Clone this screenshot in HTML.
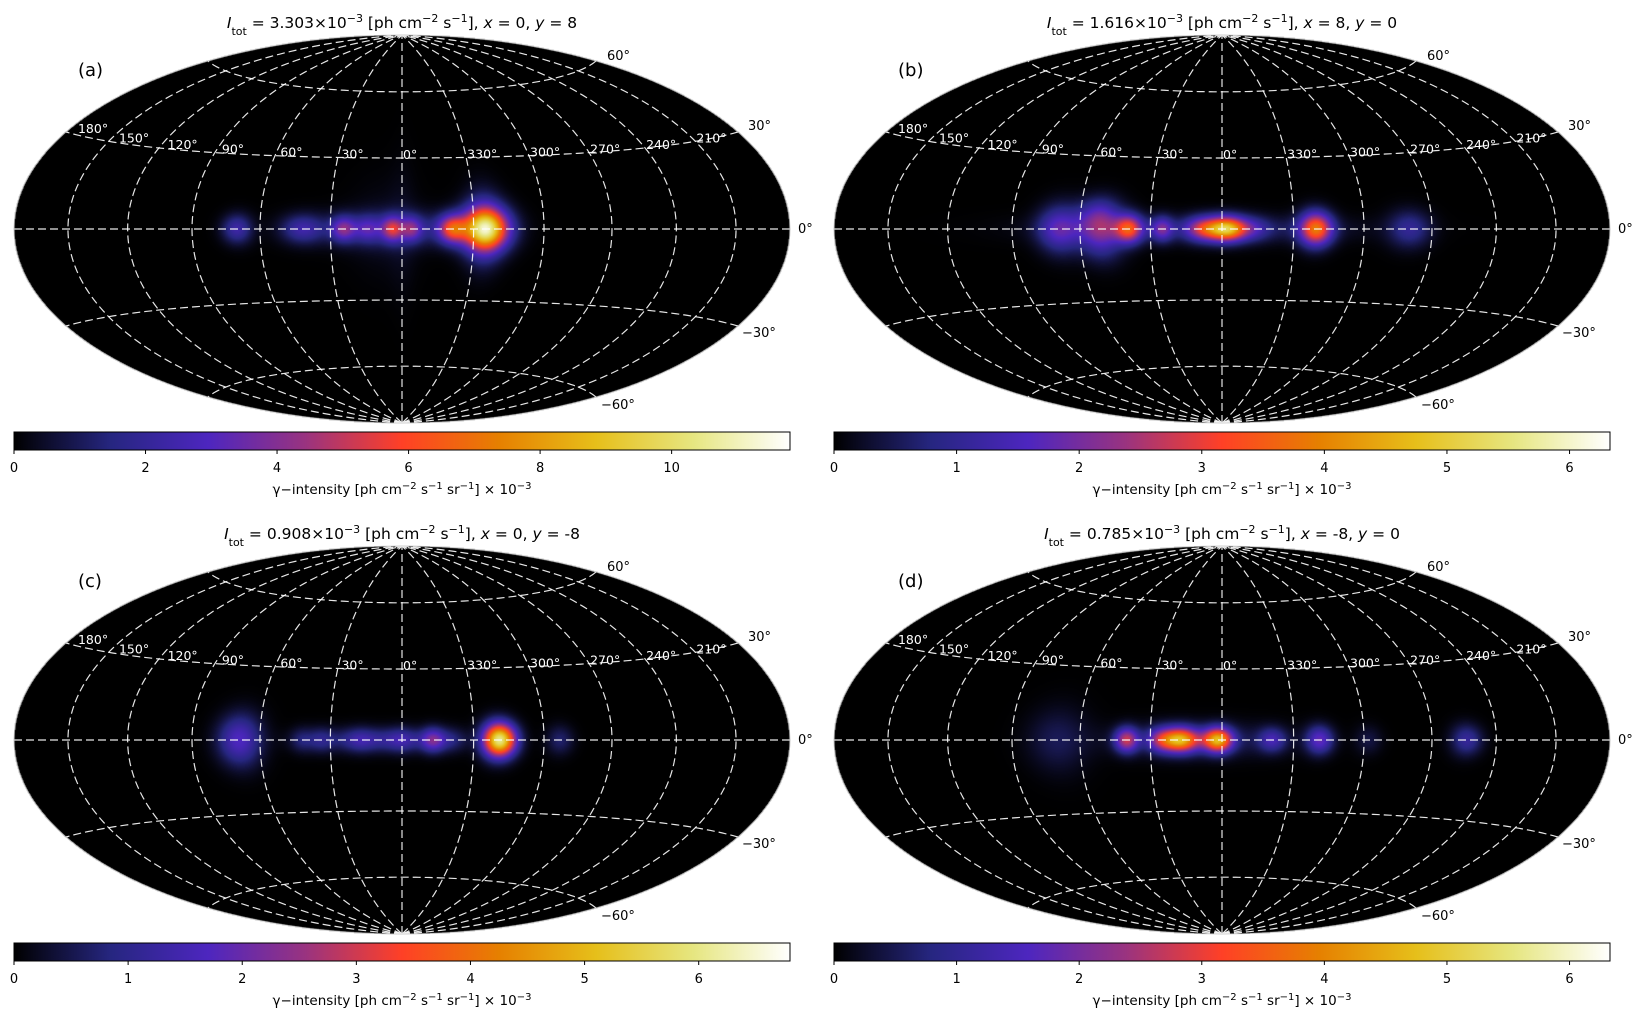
<!DOCTYPE html>
<html><head><meta charset="utf-8">
<style>
html,body{margin:0;padding:0;background:#fff;}
#wrap{position:relative;width:1638px;height:1022px;overflow:hidden;background:#fff;font-family:"DejaVu Sans","Liberation Sans",sans-serif;}
canvas{position:absolute;}
svg{position:absolute;left:0;top:0;}
</style></head>
<body>
<div id="wrap">
<canvas id="c0"></canvas>
<canvas id="c1"></canvas>
<canvas id="c2"></canvas>
<canvas id="c3"></canvas>
<svg id="ov" width="1638" height="1022" xmlns="http://www.w3.org/2000/svg">
<defs>
<linearGradient id="cmr" x1="0" x2="1" y1="0" y2="0">
<stop offset="0" stop-color="rgb(0,0,0)"/>
<stop offset="0.125" stop-color="rgb(38,38,128)"/>
<stop offset="0.25" stop-color="rgb(77,38,191)"/>
<stop offset="0.375" stop-color="rgb(153,51,128)"/>
<stop offset="0.5" stop-color="rgb(255,64,38)"/>
<stop offset="0.625" stop-color="rgb(230,128,0)"/>
<stop offset="0.75" stop-color="rgb(230,191,26)"/>
<stop offset="0.875" stop-color="rgb(230,230,128)"/>
<stop offset="1" stop-color="rgb(255,255,255)"/>
</linearGradient>
</defs>
</svg>
</div>
<script>
// ---- data ----
const panelLetters = ['(a)','(b)','(c)','(d)'];
const panelItot = ['3.303','1.616','0.908','0.785'];
const panelX = ['0','8','0','-8'];
const panelY = ['8','0','-8','0'];
const cbarMax = [11.8, 6.33, 6.8, 6.33];
const cbarTicksA = [0,2,4,6,8,10];
const cbarTicksB = [0,1,2,3,4,5,6];
const cbarTicksC = [0,1,2,3,4,5,6];
const cbarTicksD = [0,1,2,3,4,5,6];
// sources: longitude, latitude, amplitude, width in lon/lat (deg)
const aLon  = [70, 42, 24.5, 14.5, 4, -4, -21, -35, -35, 5, 8, 0];
const aLat  = [0, 0, 0, 0, 0, 0, 0, 0, 0, 0, 0, 0];
const aAmp  = [2.3, 2.0, 3.0, 1.5, 3.5, 2.5, 5.0, 8.5, 2.5, 1.8, 0.3, 0.25];
const aSLon = [4.5, 6, 3.5, 3.5, 3, 3, 4, 7, 5.5, 22, 10, 4];
const aSLat = [4, 4, 3.5, 3.5, 3.5, 3.5, 4, 6, 10, 5, 14, 20];

const bLon  = [69, 51, 52, 39, 25, 8, -2, -13, -39.5, -80, 10];
const bLat  = [0, -2, 6, 0, 0, 0, 0, 0, 0, 0, 0];
const bAmp  = [1.6, 1.6, 1.0, 2.8, 1.5, 2.0, 4.3, 0.8, 3.6, 1.0, 0.7];
const bSLon = [6.5, 6.5, 6.5, 4, 3, 5, 5.5, 5, 4.8, 6.5, 40];
const bSLat = [6.5, 7, 5, 4, 3.5, 3.5, 3.5, 3.5, 4.8, 5, 4];

const cLon  = [69, 42, 34, 10, 17.5, 0, -13, -41, -67, -21];
const cLat  = [0, 0, 0, 0, 0, 0, 0, 0, 0, 0];
const cAmp  = [1.7, 0.6, 0.6, 1.1, 0.5, 0.6, 1.8, 6.0, 0.7, 0.6];
const cSLon = [6.5, 3.5, 3.5, 18, 4, 4, 3.5, 4.8, 4, 4];
const cSLat = [7, 3.5, 3.5, 3.5, 3.5, 3.5, 3.5, 4.8, 4, 3.5];

const dLon  = [70, 40, 26, 17.5, 1.7, -21, -41, -62, -106, 10];
const dLat  = [0, 0, 0, 0, 0, 0, 0, 0, 0, 0];
const dAmp  = [0.5, 2.5, 1.4, 4.2, 4.2, 1.2, 1.7, 0.4, 1.1, 0.6];
const dSLon = [9, 3.5, 4, 5.5, 4.2, 4, 4, 4, 5, 25];
const dSLat = [9, 3.5, 3.5, 3.5, 3.5, 3.5, 4, 4, 4, 5];

const lonTickLons = [180,150,120,90,60,30,0,-30,-60,-90,-120,-150];
const lonTickText = ['180°','150°','120°','90°','60°','30°','0°','330°','300°','270°','240°','210°'];
const latTickText = ['60°','30°','0°','−30°','−60°'];

// ---- layout ----
const centers = [[402,229],[1222,229],[402,740],[1222,740]];
const RX = 388, RY = 194;
const sources = [
  [aLon,aLat,aAmp,aSLon,aSLat],
  [bLon,bLat,bAmp,bSLon,bSLat],
  [cLon,cLat,cAmp,cSLon,cSLat],
  [dLon,dLat,dAmp,dSLon,dSLat]
];
const tickSets = [cbarTicksA,cbarTicksB,cbarTicksC,cbarTicksD];
const CM = [[0,0,0],[0.15,0.15,0.5],[0.3,0.15,0.75],[0.6,0.2,0.5],[1,0.25,0.15],[0.9,0.5,0],[0.9,0.75,0.1],[0.9,0.9,0.5],[1,1,1]];
function cmap(t){
  t=Math.max(0,Math.min(1,t));
  const f=t*8, i=Math.min(7,Math.floor(f)), u=f-i;
  const a=CM[i], b=CM[i+1];
  return [255*(a[0]+(b[0]-a[0])*u),255*(a[1]+(b[1]-a[1])*u),255*(a[2]+(b[2]-a[2])*u)];
}
const D2R=Math.PI/180;
function proj(lon,lat){
  const l=-lon*D2R, p=lat*D2R;
  const d=Math.sqrt(1+Math.cos(p)*Math.cos(l/2));
  const X=Math.cos(p)*Math.sin(l/2)/d;
  const Y=Math.sin(p)/d;
  return [X*RX, -Y*RY];
}

// ---- heat maps ----
for(let k=0;k<4;k++){
  const cv=document.getElementById('c'+k);
  const [cx,cy]=centers[k];
  cv.width=2*RX; cv.height=2*RY;
  cv.style.left=(cx-RX)+'px'; cv.style.top=(cy-RY)+'px';
  const ctx=cv.getContext('2d');
  const img=ctx.createImageData(2*RX,2*RY);
  const [L,B,A,SL,SB]=sources[k];
  const vmax=cbarMax[k];
  for(let j=0;j<2*RY;j++){
    for(let i=0;i<2*RX;i++){
      const nx=(i+0.5-RX)/RX, ny=(j+0.5-RY)/RY;
      const r2=nx*nx+ny*ny;
      if(r2>1.0) continue;
      const X=nx*2*Math.SQRT2, Y=-ny*Math.SQRT2;
      const z=Math.sqrt(Math.max(0,1-X*X/16-Y*Y/4));
      const lam=2*Math.atan2(z*X,2*(2*z*z-1));
      const phi=Math.asin(Math.max(-1,Math.min(1,z*Y)));
      const lon=-lam/D2R, lat=phi/D2R;
      let v=0;
      for(let s=0;s<L.length;s++){
        const dl=lon-L[s], db=lat-B[s];
        v+=A[s]*Math.exp(-dl*dl/(2*SL[s]*SL[s])-db*db/(2*SB[s]*SB[s]));
      }
      const c=cmap(v/vmax);
      const o=4*(j*2*RX+i);
      img.data[o]=c[0]; img.data[o+1]=c[1]; img.data[o+2]=c[2];
      img.data[o+3]= r2>0.995 ? 200 : 255;
    }
  }
  ctx.putImageData(img,0,0);
}

// ---- overlay ----
const NS='http://www.w3.org/2000/svg';
const svg=document.getElementById('ov');
function el(tag,attrs,parent){
  const e=document.createElementNS(NS,tag);
  for(const a in attrs) e.setAttribute(a,attrs[a]);
  (parent||svg).appendChild(e);
  return e;
}
function addT(parent,txt,attrs){
  const t=document.createElementNS(NS,'tspan');
  for(const a in (attrs||{})) t.setAttribute(a,attrs[a]);
  t.textContent=txt; parent.appendChild(t); return t;
}
for(let k=0;k<4;k++){
  const [cx,cy]=centers[k];
  const g=el('g',{});
  
  
  const cp=el('clipPath',{id:'clip'+k},g);
  el('ellipse',{cx:cx,cy:cy,rx:RX,ry:RY},cp);
  const grid=el('g',{'clip-path':'url(#clip'+k+')',fill:'none',stroke:'#fff','stroke-opacity':'0.9','stroke-width':'1.2','stroke-dasharray':'8 4'},g);
  
  
  for(let lon=-150;lon<=150;lon+=30){
    let d='';
    for(let lat=-90;lat<=90;lat+=1){const p=proj(lon,lat);d+=(lat===-90?'M':'L')+(cx+p[0]).toFixed(2)+','+(cy+p[1]).toFixed(2);}
    const m=el('path',{d:d},grid);
    
    
  }
  for(let lat=-60;lat<=60;lat+=30){
    let d='';
    for(let lon=-180;lon<=180;lon+=2){const p=proj(lon,lat);d+=(lon===-180?'M':'L')+(cx+p[0]).toFixed(2)+','+(cy+p[1]).toFixed(2);}
    const pl=el('path',{d:d},grid);
    
    
  }
  const outline=el('ellipse',{cx:cx,cy:cy,rx:RX,ry:RY,fill:'none',stroke:'#bbb','stroke-width':'0.8'},g);
  
  
  for(let i=0;i<lonTickLons.length;i++){
    const lon=lonTickLons[i];
    const p=proj(lon,30);
    const off= lon>0 ? 2+10*lon/180 : 1;
    const t=el('text',{x:cx+p[0]+off,y:cy+p[1]+1,fill:'#fff','font-size':'12.5'},g);
    t.textContent=lonTickText[i];
    
    
  }
  const latPos=[[205,60],[346,130],[396,233],[340,337],[199,409]];
  for(let i=0;i<5;i++){
    const t=el('text',{x:cx+latPos[i][0],y:latPos[i][1]+(cy-229),fill:'#000','font-size':'13'},g);
    t.textContent=latTickText[i];
    
    
  }
  const pl=el('text',{x:cx-324,y:cy-153,fill:'#000','font-size':'18'},g);
  pl.textContent=panelLetters[k];
  
  
  const tt=el('text',{x:cx,y:cy-201,'text-anchor':'middle','font-size':'15.5',fill:'#000'},g);
  
  
  addT(tt,'I',{'font-style':'italic'});
  addT(tt,'tot',{'baseline-shift':'sub','font-size':'11'});
  addT(tt,' = '+panelItot[k]+'×10');
  addT(tt,'−3',{'baseline-shift':'super','font-size':'11'});
  addT(tt,' [ph cm');
  addT(tt,'−2',{'baseline-shift':'super','font-size':'11'});
  addT(tt,' s');
  addT(tt,'−1',{'baseline-shift':'super','font-size':'11'});
  addT(tt,'], ');
  addT(tt,'x',{'font-style':'italic'});
  addT(tt,' = '+panelX[k]+', ');
  addT(tt,'y',{'font-style':'italic'});
  addT(tt,' = '+panelY[k]);
  const bx=cx-RX, by=cy+203, bw=2*RX, bh=18;
  const cb=el('rect',{x:bx,y:by,width:bw,height:bh,fill:'url(#cmr)',stroke:'#000','stroke-width':'1'},g);
  
  
  const ticks=tickSets[k];
  for(const v of ticks){
    const x=bx+bw*v/cbarMax[k];
    const tl=el('line',{x1:x,x2:x,y1:by+bh,y2:by+bh+4,stroke:'#000','stroke-width':'1'},g);
    
    
    const tx=el('text',{x:x,y:by+bh+22,'text-anchor':'middle','font-size':'13',fill:'#000'},g);
    tx.textContent=String(v);
    
    
  }
  const cl=el('text',{x:cx,y:by+bh+44,'text-anchor':'middle','font-size':'13.5',fill:'#000'},g);
  
  
  addT(cl,'γ−intensity [ph cm');
  addT(cl,'−2',{'baseline-shift':'super','font-size':'10'});
  addT(cl,' s');
  addT(cl,'−1',{'baseline-shift':'super','font-size':'10'});
  addT(cl,' sr');
  addT(cl,'−1',{'baseline-shift':'super','font-size':'10'});
  addT(cl,'] × 10');
  addT(cl,'−3',{'baseline-shift':'super','font-size':'10'});
}
</script>
</body></html>
